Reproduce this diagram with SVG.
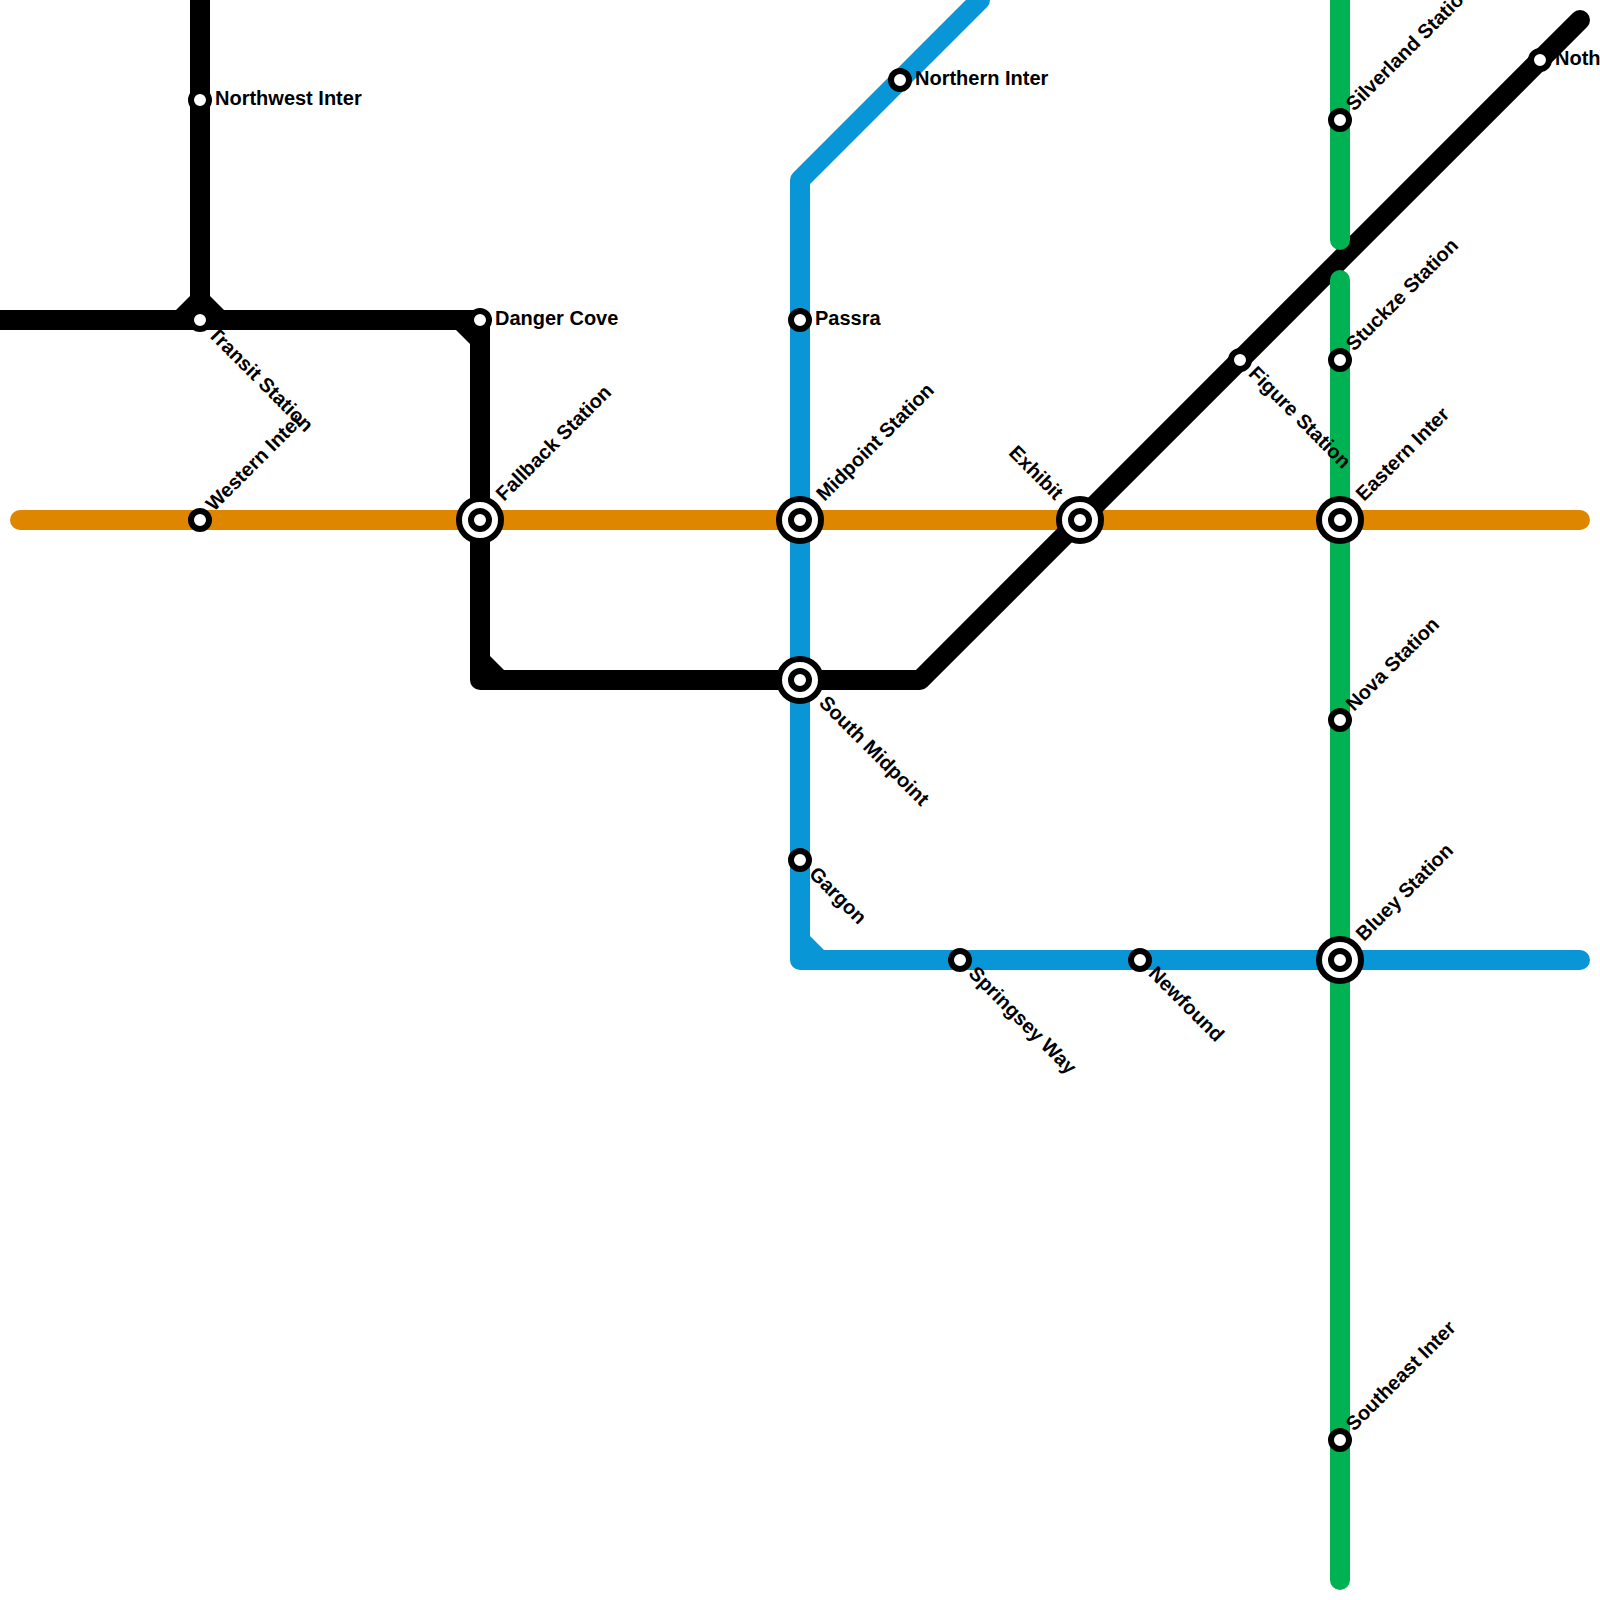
<svg xmlns="http://www.w3.org/2000/svg" width="1600" height="1600" viewBox="0 0 1600 1600">
<style>
.l{fill:none;stroke-width:20;stroke-linecap:round;stroke-linejoin:round}
.k{stroke:#000}.k2{fill:#000}.o{stroke:#df8600}.b{stroke:#0896d7}.b2{fill:#0896d7}.g{stroke:#00b251}
.s{fill:#fff;stroke:#000;stroke-width:6}
text{font-family:"Liberation Sans",Arial,sans-serif;font-weight:700;font-size:20px;fill:#000}
</style>
<rect width="1600" height="1600" fill="#fff"/>
<g id="connectors">
<path class="l o" d="M20 520H1580"/>
<path class="l k" d="M200 -20V320"/>
<path class="l k" d="M-20 320H480V680H920L1580 20"/>
<polygon class="k2" points="176,310 190,296 210,296 224,310"/>
<polygon class="k2" points="456,330 470,344 470,330"/>
<polygon class="k2" points="490,656 504,670 490,670"/>
<path class="l b" d="M980 0L800 180V960H1580"/>
<polygon class="b2" points="810,936 824,950 810,950"/>
<path class="l g" d="M1340 -20V240M1340 280V1580"/>
</g>
<g id="northwest-inter"><circle class="s" cx="200" cy="100" r="9"/><text x="215" y="105">Northwest Inter</text></g>
<g id="transit-station"><circle class="s" cx="200" cy="320" r="9"/><text transform="translate(207 335) rotate(45)">Transit Station</text></g>
<g id="danger-cove"><circle class="s" cx="480" cy="320" r="9"/><text x="495" y="325">Danger Cove</text></g>
<g id="western-inter"><circle class="s" cx="200" cy="520" r="9"/><text transform="translate(214 512) rotate(-45)">Western Inter</text></g>
<g id="fallback-station"><circle class="s" cx="480" cy="520" r="21"/><circle class="s" cx="480" cy="520" r="9"/><text transform="translate(504 502) rotate(-45)">Fallback Station</text></g>
<g id="northern-inter"><circle class="s" cx="900" cy="80" r="9"/><text x="915" y="85">Northern Inter</text></g>
<g id="passra"><circle class="s" cx="800" cy="320" r="9"/><text x="815" y="325">Passra</text></g>
<g id="midpoint-station"><circle class="s" cx="800" cy="520" r="21"/><circle class="s" cx="800" cy="520" r="9"/><text transform="translate(824.5 502) rotate(-45)">Midpoint Station</text></g>
<g id="south-midpoint"><circle class="s" cx="800" cy="680" r="21"/><circle class="s" cx="800" cy="680" r="9"/><text transform="translate(818 704) rotate(45)">South Midpoint</text></g>
<g id="gargon"><circle class="s" cx="800" cy="860" r="9"/><text transform="translate(808 875) rotate(45)">Gargon</text></g>
<g id="springsey-way"><circle class="s" cx="960" cy="960" r="9"/><text transform="translate(967.5 974.5) rotate(45)">Springsey Way</text></g>
<g id="newfound"><circle class="s" cx="1140" cy="960" r="9"/><text transform="translate(1147.5 974.5) rotate(45)">Newfound</text></g>
<g id="exhibit"><circle class="s" cx="1080" cy="520" r="21"/><circle class="s" cx="1080" cy="520" r="9"/><text text-anchor="end" transform="translate(1055 501) rotate(45)">Exhibit</text></g>
<g id="figure-station"><circle class="s" cx="1240" cy="360" r="9"/><text transform="translate(1247.5 374.5) rotate(45)">Figure Station</text></g>
<g id="silverland-station"><circle class="s" cx="1340" cy="120" r="9"/><text transform="translate(1354 112) rotate(-45)">Silverland Station</text></g>
<g id="stuckze-station"><circle class="s" cx="1340" cy="360" r="9"/><text transform="translate(1354 352) rotate(-45)">Stuckze Station</text></g>
<g id="eastern-inter"><circle class="s" cx="1340" cy="520" r="21"/><circle class="s" cx="1340" cy="520" r="9"/><text transform="translate(1364 502) rotate(-45)">Eastern Inter</text></g>
<g id="nova-station"><circle class="s" cx="1340" cy="720" r="9"/><text transform="translate(1354 712) rotate(-45)">Nova Station</text></g>
<g id="bluey-station"><circle class="s" cx="1340" cy="960" r="21"/><circle class="s" cx="1340" cy="960" r="9"/><text transform="translate(1364 942) rotate(-45)">Bluey Station</text></g>
<g id="southeast-inter"><circle class="s" cx="1340" cy="1440" r="9"/><text transform="translate(1354 1432) rotate(-45)">Southeast Inter</text></g>
<g id="noth"><circle class="s" cx="1540" cy="60" r="9"/><text x="1555" y="65">Noth</text></g>
</svg>
